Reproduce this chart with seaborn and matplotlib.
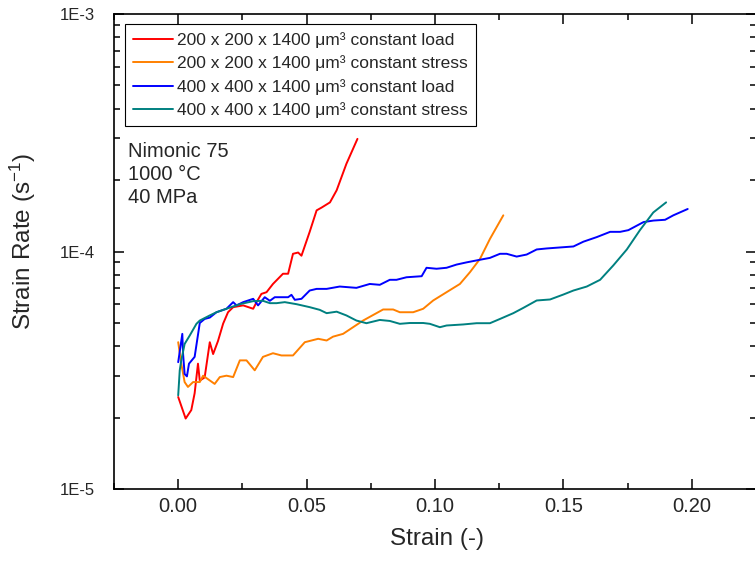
import numpy as np
import pandas as pd
import matplotlib
matplotlib.use("Agg")
import matplotlib.pyplot as plt
import matplotlib.ticker as mticker
import seaborn as sns

# ---------------- data ----------------
series_names = [
    "200 x 200 x 1400 μm³ constant load",
    "200 x 200 x 1400 μm³ constant stress",
    "400 x 400 x 1400 μm³ constant load",
    "400 x 400 x 1400 μm³ constant stress",
]
colors = ["#ff0000", "#ff8000", "#0000ff", "#008080"]

red_x = [0.0, 0.0029, 0.0051, 0.0064, 0.0077, 0.0084, 0.0103, 0.0123, 0.0136, 0.0155,
         0.0175, 0.0194, 0.0214, 0.0253, 0.0292, 0.0305, 0.0324, 0.0344, 0.0369, 0.0408,
         0.0428, 0.0447, 0.0467, 0.048, 0.0512, 0.0539, 0.0558, 0.0591, 0.0617, 0.0655, 0.0698]
red_y = [2.44e-5, 1.98e-5, 2.15e-5, 2.53e-5, 3.37e-5, 2.86e-5, 2.95e-5, 4.15e-5, 3.70e-5, 4.20e-5,
         4.97e-5, 5.55e-5, 5.83e-5, 5.93e-5, 5.74e-5, 6.12e-5, 6.63e-5, 6.74e-5, 7.30e-5, 8.06e-5,
         8.06e-5, 9.78e-5, 9.90e-5, 9.60e-5, 1.21e-4, 1.49e-4, 1.53e-4, 1.61e-4, 1.81e-4, 2.34e-4, 2.98e-4]

orange_x = [0.0, 0.0012, 0.0025, 0.0038, 0.0058, 0.0084, 0.0097, 0.0116, 0.0142, 0.0162,
            0.0188, 0.0214, 0.024, 0.0266, 0.0298, 0.033, 0.0369, 0.0402, 0.0447, 0.0493,
            0.0545, 0.0578, 0.0603, 0.0642, 0.072, 0.0798, 0.0837, 0.0863, 0.0915, 0.0954,
            0.0993, 0.1045, 0.1097, 0.1136, 0.1175, 0.1214, 0.1266]
orange_y = [4.15e-5, 3.37e-5, 2.82e-5, 2.69e-5, 2.82e-5, 2.82e-5, 3.00e-5, 2.90e-5, 2.77e-5, 2.96e-5,
            3.00e-5, 2.96e-5, 3.48e-5, 3.48e-5, 3.16e-5, 3.60e-5, 3.73e-5, 3.65e-5, 3.65e-5, 4.15e-5,
            4.29e-5, 4.22e-5, 4.38e-5, 4.50e-5, 5.12e-5, 5.70e-5, 5.70e-5, 5.55e-5, 5.55e-5, 5.74e-5,
            6.22e-5, 6.74e-5, 7.30e-5, 8.18e-5, 9.30e-5, 1.13e-4, 1.42e-4]

blue_x = [0.0, 0.0016, 0.0019, 0.0025, 0.0034, 0.0042, 0.0064, 0.0084, 0.0103, 0.0123,
          0.0149, 0.0188, 0.0214, 0.0227, 0.0253, 0.0292, 0.0311, 0.0337, 0.0357, 0.0376,
          0.0428, 0.0441, 0.0454, 0.048, 0.0512, 0.0539, 0.0578, 0.0629, 0.0694, 0.0746,
          0.0785, 0.0824, 0.085, 0.0889, 0.0948, 0.0967, 0.1006, 0.1045, 0.1084, 0.1123,
          0.1175, 0.1214, 0.1253, 0.1279, 0.1318, 0.1357, 0.1396, 0.1435, 0.1487, 0.1539,
          0.1578, 0.163, 0.1682, 0.1721, 0.1753, 0.1812, 0.1851, 0.1896, 0.1928, 0.1984]
blue_y = [3.42e-5, 4.50e-5, 3.70e-5, 3.05e-5, 2.98e-5, 3.37e-5, 3.60e-5, 5.00e-5, 5.20e-5, 5.27e-5,
          5.55e-5, 5.74e-5, 6.12e-5, 5.93e-5, 6.12e-5, 6.32e-5, 5.93e-5, 6.42e-5, 6.20e-5, 6.42e-5,
          6.42e-5, 6.57e-5, 6.26e-5, 6.32e-5, 6.85e-5, 6.96e-5, 6.96e-5, 7.12e-5, 7.03e-5, 7.30e-5,
          7.24e-5, 7.60e-5, 7.60e-5, 7.79e-5, 7.87e-5, 8.54e-5, 8.46e-5, 8.54e-5, 8.81e-5, 9.00e-5,
          9.23e-5, 9.40e-5, 9.78e-5, 9.78e-5, 9.52e-5, 9.71e-5, 1.02e-4, 1.03e-4, 1.04e-4, 1.05e-4,
          1.10e-4, 1.15e-4, 1.21e-4, 1.21e-4, 1.23e-4, 1.33e-4, 1.35e-4, 1.36e-4, 1.42e-4, 1.51e-4]

teal_x = [0.0, 0.0006, 0.0012, 0.0025, 0.0045, 0.0071, 0.0084, 0.0123, 0.0149, 0.0188,
          0.024, 0.0292, 0.033, 0.0357, 0.0383, 0.0415, 0.0461, 0.0512, 0.0551, 0.0578,
          0.0617, 0.0655, 0.0694, 0.0733, 0.0785, 0.0824, 0.0863, 0.0902, 0.0954, 0.098,
          0.1019, 0.1045, 0.111, 0.1162, 0.1214, 0.1253, 0.1305, 0.1344, 0.1396, 0.1448,
          0.15, 0.1539, 0.1591, 0.1643, 0.1694, 0.1747, 0.1798, 0.185, 0.19]
teal_y = [2.48e-5, 3.16e-5, 3.48e-5, 4.08e-5, 4.43e-5, 4.96e-5, 5.12e-5, 5.38e-5, 5.55e-5, 5.74e-5,
          6.00e-5, 6.18e-5, 6.20e-5, 6.06e-5, 6.06e-5, 6.12e-5, 6.00e-5, 5.83e-5, 5.68e-5, 5.50e-5,
          5.58e-5, 5.38e-5, 5.12e-5, 4.99e-5, 5.15e-5, 5.10e-5, 4.96e-5, 5.00e-5, 5.00e-5, 4.96e-5,
          4.80e-5, 4.88e-5, 4.93e-5, 4.99e-5, 4.99e-5, 5.20e-5, 5.50e-5, 5.79e-5, 6.22e-5, 6.28e-5,
          6.59e-5, 6.85e-5, 7.12e-5, 7.60e-5, 8.73e-5, 1.02e-4, 1.23e-4, 1.46e-4, 1.61e-4]

annotation_lines = ["Nimonic 75", "1000 °C", "40 MPa"]
x_ticks = [0.00, 0.05, 0.10, 0.15, 0.20]
x_tick_labels = ["0.00", "0.05", "0.10", "0.15", "0.20"]
y_ticks = [1e-5, 1e-4, 1e-3]
y_tick_labels = ["1E-5", "1E-4", "1E-3"]

frames = []
for name, xs, ys in zip(series_names,
                        [red_x, orange_x, blue_x, teal_x],
                        [red_y, orange_y, blue_y, teal_y]):
    frames.append(pd.DataFrame({"strain": xs, "rate": ys, "series": name}))
df = pd.concat(frames, ignore_index=True)

# ---------------- plot ----------------
sns.set_style("ticks")
plt.rcParams["font.family"] = ["Liberation Sans", "DejaVu Sans"]
plt.rcParams["mathtext.fontset"] = "custom"
plt.rcParams["mathtext.rm"] = "Liberation Sans"
plt.rcParams["mathtext.it"] = "Liberation Sans:italic"

W, H = 755, 563
fig = plt.figure(figsize=(W / 100, H / 100), dpi=100)
L, R, T, B = 114, 756, 14, 489
ax = fig.add_axes([L / W, 1 - B / H, (R - L) / W, (B - T) / H])

sns.lineplot(data=df, x="strain", y="rate", hue="series", hue_order=series_names,
             palette=colors, sort=False, estimator=None, linewidth=1.4, ax=ax)

ax.set_yscale("log")
ax.set_xlim(-0.025, 0.225)
ax.set_ylim(1e-5, 1e-3)

ax.xaxis.set_major_locator(mticker.FixedLocator(x_ticks))
ax.xaxis.set_major_formatter(mticker.FixedFormatter(x_tick_labels))
ax.xaxis.set_minor_locator(mticker.MultipleLocator(0.025))
ax.yaxis.set_major_locator(mticker.FixedLocator(y_ticks))
ax.yaxis.set_major_formatter(mticker.FixedFormatter(y_tick_labels))
ax.yaxis.set_minor_locator(mticker.LogLocator(base=10, subs=np.arange(2, 10)))
ax.yaxis.set_minor_formatter(mticker.NullFormatter())

ax.tick_params(which="both", direction="in", top=True, right=True, width=1.1, color="black")
ax.tick_params(which="major", length=7.2)
ax.tick_params(which="minor", length=4)
ax.tick_params(axis="x", which="major", labelsize=14.5, pad=6)
ax.tick_params(axis="y", which="major", labelsize=12, pad=13.5)
for s in ax.spines.values():
    s.set_linewidth(1.2)
    s.set_color("black")

ax.set_xlabel("Strain (-)", fontsize=17.5)
ax.set_ylabel("Strain Rate (s$^{-1}$)", fontsize=17.5)
ax.xaxis.set_label_coords((436.5 - L) / (R - L), (B - 528) / (B - T))
ax.yaxis.set_label_coords((38 - L) / (R - L), 0.52)

leg = ax.legend(loc="upper left", bbox_to_anchor=((125 - L) / (R - L), (B - 24) / (B - T)),
                borderaxespad=0, fontsize=12.5,
                frameon=True, fancybox=False, edgecolor="black", framealpha=1,
                handlelength=2.3, handletextpad=0.25, borderpad=0.45, labelspacing=0.44)
leg.get_frame().set_linewidth(0.8)
for line in leg.get_lines():
    line.set_linewidth(1.4)

for txt, base in zip(annotation_lines, [156.7, 179.5, 203]):
    ax.text((128 - L) / (R - L), (B - base) / (B - T), txt, transform=ax.transAxes,
            fontsize=14.5, va="baseline", ha="left")

fig.savefig("out.png", dpi=100)
